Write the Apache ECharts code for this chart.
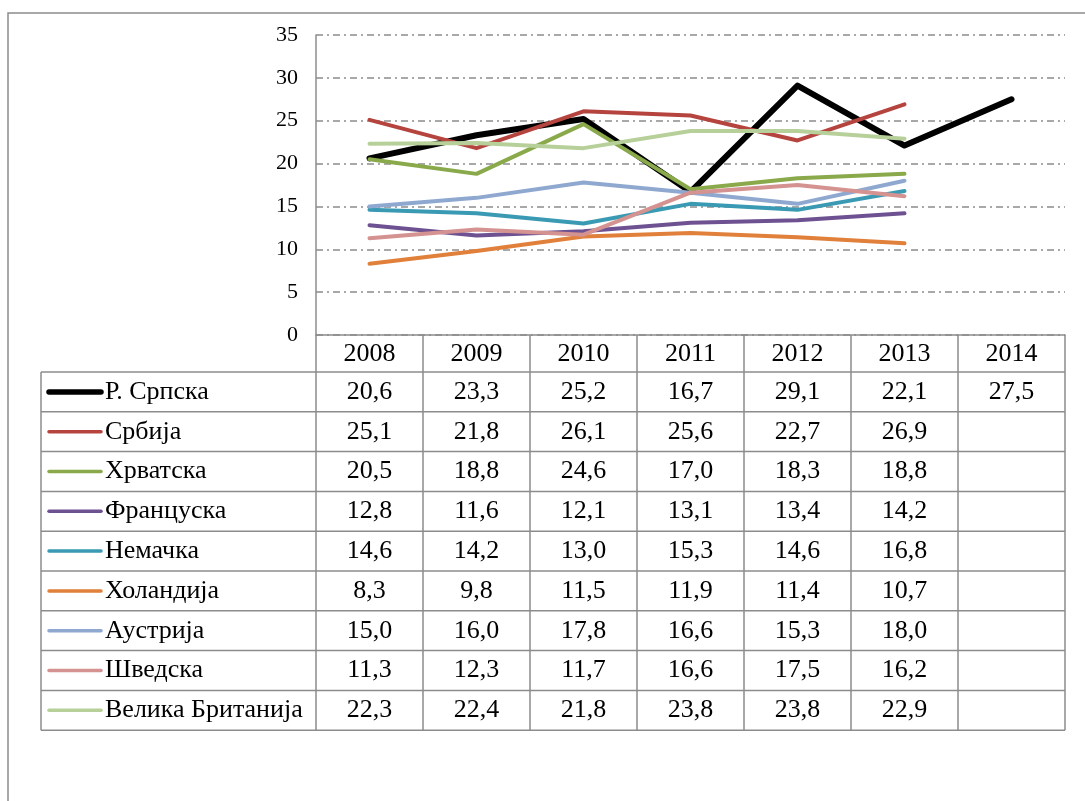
<!DOCTYPE html>
<html>
<head>
<meta charset="utf-8">
<script src="https://cdn.jsdelivr.net/npm/echarts@6/dist/echarts.min.js"></script>
<style>
  html, body { margin: 0; padding: 0; background: #fff; }
  #chart { width: 1085px; height: 801px; }
</style>
</head>
<body>
<div id="chart"></div>
<script>
// data
const years = ['2008', '2009', '2010', '2011', '2012', '2013', '2014'];
const rSrpska     = [20.6, 23.3, 25.2, 16.7, 29.1, 22.1, 27.5];
const srbija      = [25.1, 21.8, 26.1, 25.6, 22.7, 26.9, null];
const hrvatska    = [20.5, 18.8, 24.6, 17.0, 18.3, 18.8, null];
const francuska   = [12.8, 11.6, 12.1, 13.1, 13.4, 14.2, null];
const nemacka     = [14.6, 14.2, 13.0, 15.3, 14.6, 16.8, null];
const holandija   = [8.3, 9.8, 11.5, 11.9, 11.4, 10.7, null];
const austrija    = [15.0, 16.0, 17.8, 16.6, 15.3, 18.0, null];
const svedska     = [11.3, 12.3, 11.7, 16.6, 17.5, 16.2, null];
const britanija   = [22.3, 22.4, 21.8, 23.8, 23.8, 22.9, null];
const yTicks = [0, 5, 10, 15, 20, 25, 30, 35];

const names = ['Р. Српска', 'Србија', 'Хрватска', 'Француска', 'Немачка',
  'Холандија', 'Аустрија', 'Шведска', 'Велика Британија'];
const values = [rSrpska, srbija, hrvatska, francuska, nemacka, holandija, austrija, svedska, britanija];

// styles
const colors = ['#000000', '#b5443f', '#89a94a', '#6e5191', '#3a9ab3',
  '#e0803a', '#8fa8d0', '#d49290', '#b7d09a'];
const widths = [6, 4, 4, 4, 4, 4, 4, 4, 4];
const gray = '#8c8c8c';
const font = "'Liberation Serif', 'DejaVu Serif', serif";

// table layout
const tableLeft = 41, tableRight = 1065, rowTop = 372, rowH = 39.8;
const tableBottom = rowTop + rowH * names.length;

const chart = echarts.init(document.getElementById('chart'));

chart.setOption({
  animation: false,
  grid: { left: 316, right: 20, top: 35, bottom: 801 - 335 },
  xAxis: {
    type: 'category',
    data: years,
    boundaryGap: true,
    axisLine: { lineStyle: { color: gray, width: 1.5 } },
    axisTick: { show: true, length: tableBottom - 335, lineStyle: { color: gray, width: 1.5 } },
    axisLabel: { color: '#000', fontFamily: font, fontSize: 26, margin: 19, verticalAlign: 'middle' }
  },
  yAxis: {
    type: 'value',
    min: yTicks[0],
    max: yTicks[yTicks.length - 1],
    interval: 5,
    axisLine: { show: true, lineStyle: { color: gray, width: 1.5 } },
    axisTick: { show: false },
    axisLabel: { color: '#000', fontFamily: font, fontSize: 22, margin: 18 },
    splitLine: { lineStyle: { color: gray, width: 1.5, type: [7, 4, 2, 4] } }
  },
  series: names.map((n, i) => ({
    name: n,
    type: 'line',
    data: values[i],
    showSymbol: false,
    symbol: 'none',
    connectNulls: false,
    lineStyle: { color: colors[i], width: widths[i], cap: 'round', join: 'round' },
    itemStyle: { color: colors[i] }
  }))
});

// data table under the plot
const g = [];
g.push({ type: 'rect', shape: { x: 8, y: 13, width: 1120, height: 820 },
  style: { fill: 'none', stroke: gray, lineWidth: 1.5 }, silent: true });
for (let i = 0; i <= names.length; i++) {
  const y = rowTop + rowH * i;
  g.push({ type: 'line', shape: { x1: tableLeft, y1: y, x2: tableRight, y2: y },
    style: { stroke: gray, lineWidth: 1.5 }, silent: true });
}
g.push({ type: 'line', shape: { x1: tableLeft, y1: rowTop, x2: tableLeft, y2: tableBottom },
  style: { stroke: gray, lineWidth: 1.5 }, silent: true });

names.forEach((n, i) => {
  const cy = rowTop + rowH * i + rowH / 2;
  g.push({ type: 'line', shape: { x1: 49, y1: cy, x2: 101, y2: cy },
    style: { stroke: colors[i], lineWidth: widths[i] - 0.5, lineCap: 'round' }, silent: true });
  g.push({ type: 'text', x: 105, y: cy,
    style: { text: n, fill: '#000', font: '26px ' + font, textAlign: 'left', textVerticalAlign: 'middle' } });
  values[i].forEach((v, j) => {
    if (v == null) return;
    const cx = chart.convertToPixel({ xAxisIndex: 0 }, years[j]);
    g.push({ type: 'text', x: cx, y: cy,
      style: { text: v.toFixed(1).replace('.', ','), fill: '#000', font: '26px ' + font,
        textAlign: 'center', textVerticalAlign: 'middle' } });
  });
});

chart.setOption({ graphic: g });
</script>
</body>
</html>
